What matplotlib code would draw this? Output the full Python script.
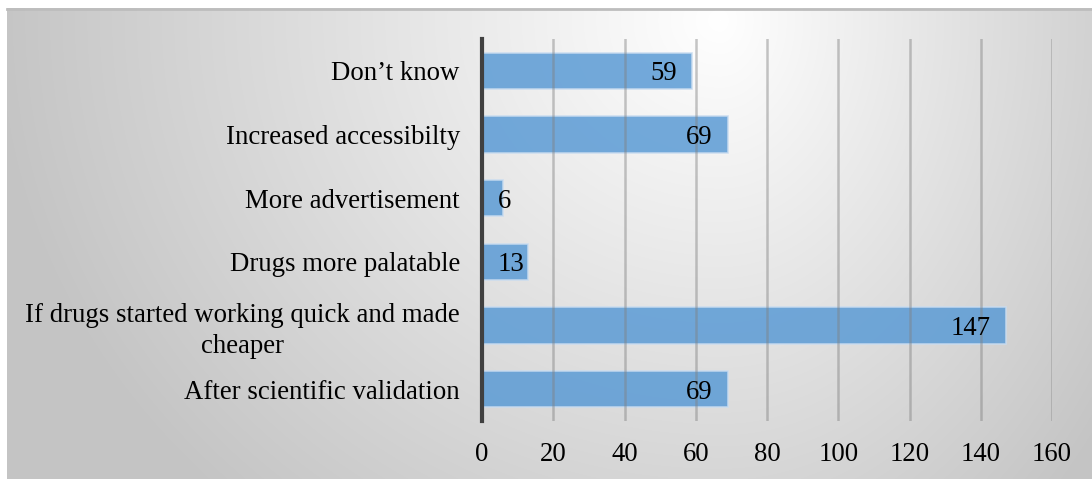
import numpy as np
import matplotlib
matplotlib.use("Agg")
import matplotlib.pyplot as plt

categories = ["After scientific validation",
              "If drugs started working quick and made\ncheaper",
              "Drugs more palatable",
              "More advertisement",
              "Increased accessibilty",
              "Don\u2019t know"]
values = [69, 147, 13, 6, 69, 59]
xticks = [0, 20, 40, 60, 80, 100, 120, 140, 160]

W, H = 1092, 479
FS = 19.3
plt.rcParams['font.family'] = ['Liberation Serif', 'DejaVu Serif']
fig = plt.figure(figsize=(W / 100, H / 100), dpi=100)
fig.patch.set_facecolor('white')

# background gradient panel
x0, y0 = 7, 8
bg = fig.add_axes([x0 / W, 0, 1 - x0 / W, 1 - y0 / H], zorder=-5)
gx = np.arange(x0, W)
gy = np.arange(y0, H)
X, Y = np.meshgrid(gx, gy)
cx, cy = 720, 20
rx = np.where(X < cx, 720, 480)
ry = 650
d = np.sqrt(((X - cx) / rx) ** 2 + ((Y - cy) / ry) ** 2)
val = 255 - 58 * np.clip(d, 0, 1.1)
val = np.clip(val, 196, 255) / 255
img = np.dstack([val, val, val])
bg.imshow(img, aspect='auto', extent=[0, 1, 0, 1], origin='upper', interpolation='bilinear')
bg.set_axis_off()
# top border line
fig.add_artist(plt.Line2D([x0 / W, 1], [1 - (y0 + 1) / H, 1 - (y0 + 1) / H],
                          color='#bdbdbd', lw=2, transform=fig.transFigure))

ax = fig.add_axes([482 / W, 1 - 421 / H, (1052 - 482) / W, (421 - 39) / H])
ax.set_facecolor('none')
ypos = np.arange(len(categories))
ax.barh(ypos, values, height=0.57, color='#5B9BD5', alpha=0.85,
        edgecolor='#c9dcf0', linewidth=1.2, zorder=2)
ax.set_xlim(0, 160)
ax.set_ylim(-0.5, len(categories) - 0.5)
ax.set_xticks(xticks)
ax.set_xticklabels([str(t) for t in xticks], fontsize=FS)
ax.set_yticks(ypos)
ax.set_yticklabels(categories, fontsize=FS, linespacing=1.3)
for lbl in ax.get_yticklabels():
    lbl.set_horizontalalignment('right')
    lbl.set_multialignment('center')
ax.tick_params(axis='both', length=0)
ax.tick_params(axis='x', pad=15)
ax.tick_params(axis='y', pad=16)
ax.grid(axis='x', color='#808080', linewidth=1.8, alpha=0.45, zorder=3)
ax.set_axisbelow(False)
for s in ['top', 'right', 'bottom']:
    ax.spines[s].set_visible(False)
ax.spines['left'].set_color('#404040')
ax.spines['left'].set_linewidth(3)
ax.spines['left'].set_zorder(4)

for y, v in zip(ypos, values):
    if v < 20:
        ax.text(4.4, y, str(v), ha='left', va='center_baseline', fontsize=FS, zorder=5)
    else:
        ax.text(v - 4.3, y, str(v), ha='right', va='center_baseline', fontsize=FS, zorder=5)

fig.savefig('out.png', dpi=100)
